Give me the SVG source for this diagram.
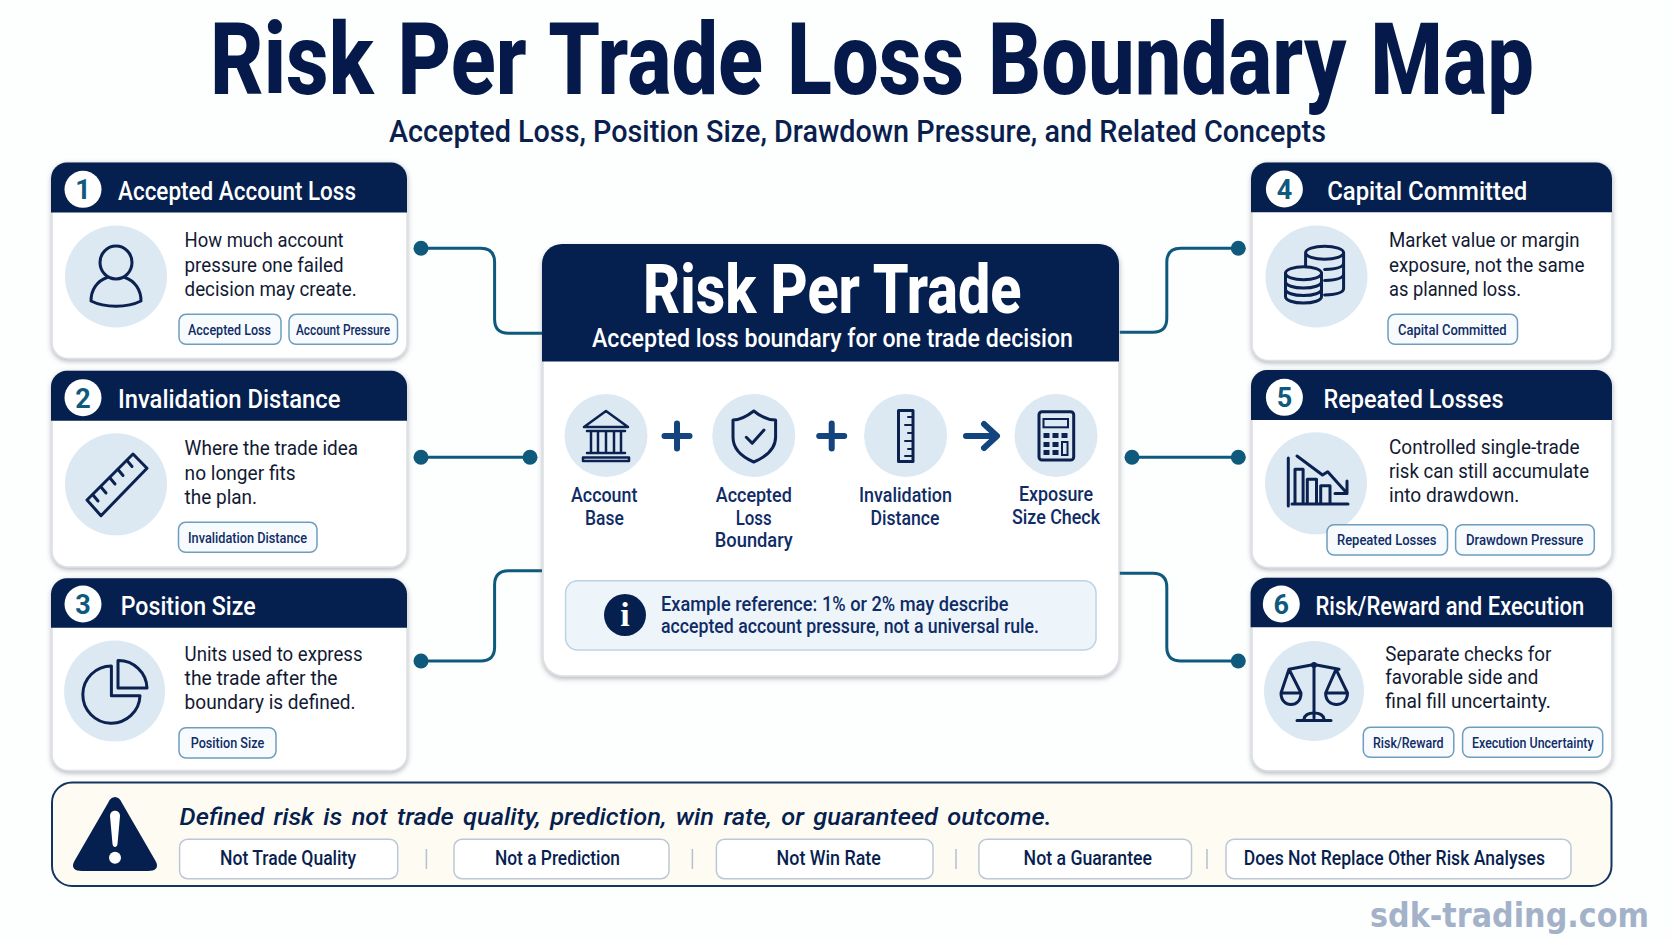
<svg xmlns="http://www.w3.org/2000/svg" width="1672" height="941" viewBox="0 0 1672 941">
<defs>
<filter id="sh" x="-5%" y="-5%" width="110%" height="112%"><feDropShadow dx="0" dy="2" stdDeviation="2.5" flood-color="#5b6470" flood-opacity="0.45"/></filter>
</defs>
<style>
text{font-family:Roboto,"Liberation Sans",sans-serif}
.card{fill:#fff;stroke:#dcdfe3;stroke-width:1.5;filter:url(#sh)}
.hd{fill:#05204f}
.ttl{font-size:25.5px;font-weight:500;fill:#fff}
.num{font-size:27px;font-weight:700;fill:#0f5a7c;text-anchor:middle}
.nc{fill:#fff}
.ic{fill:#dce9f3}
.b{font-size:19.5px;fill:#121a33}
.chip{fill:#f7fbfe;stroke:#6e9dbd;stroke-width:1.5}
.cht{font-size:15px;font-weight:500;fill:#0f2c66}
.st{fill:none;stroke:#0b2150;stroke-width:3;stroke-linejoin:round;stroke-linecap:round}
.sf{fill:#dce9f3;stroke:#0b2150;stroke-width:3;stroke-linejoin:round;stroke-linecap:round}
.thin{fill:none;stroke:#0b2150;stroke-width:2;stroke-linecap:round}
.lab{font-size:19.5px;font-weight:500;fill:#0f2c66}
.op{fill:none;stroke:#13447d;stroke-width:6;stroke-linecap:round;stroke-linejoin:round}
.con{fill:none;stroke:#0f5a7c;stroke-width:3}
.dot{fill:#0f5a7c}
.pill{fill:#fff;stroke:#bcc8d8;stroke-width:1.5}
.pt{font-size:19.5px;font-weight:500;fill:#081f4f}
.sep{stroke:#b4c1d1;stroke-width:1.5}
</style>
<rect width="1672" height="941" fill="#fdfefe"/>
<text transform="translate(210 94) scale(0.83 1)" font-size="100" font-weight="800" word-spacing="4" fill="#051a4a">Risk Per Trade Loss Boundary Map</text>
<text x="389" y="142" font-size="31" font-weight="500" fill="#0a1f4e" textLength="937" lengthAdjust="spacingAndGlyphs">Accepted Loss, Position Size, Drawdown Pressure, and Related Concepts</text>
<g id="connectors">
<path class="con" d="M421 248.300H480.600Q494.600 248.300 494.600 262.300V319.300Q494.600 333.300 508.600 333.300H542"/>
<path class="con" d="M421 457.300H530"/>
<path class="con" d="M421 661H480.600Q494.600 661 494.600 647V584.700Q494.600 570.700 508.600 570.700H542"/>
<path class="con" d="M1238 248.300H1180.800Q1166.800 248.300 1166.800 262.300V318.300Q1166.800 332.300 1152.800 332.300H1119"/>
<path class="con" d="M1132 457.300H1238"/>
<path class="con" d="M1238 661H1180.800Q1166.800 661 1166.800 647V587.300Q1166.800 573.300 1152.800 573.300H1119"/>
<circle class="dot" cx="421" cy="248.300" r="7.500"/><circle class="dot" cx="421" cy="457.300" r="7.500"/><circle class="dot" cx="530" cy="457.300" r="7.500"/><circle class="dot" cx="421" cy="661" r="7.500"/>
<circle class="dot" cx="1238.300" cy="248.300" r="7.500"/><circle class="dot" cx="1132" cy="457.300" r="7.500"/><circle class="dot" cx="1238.300" cy="457.300" r="7.500"/><circle class="dot" cx="1238.300" cy="661" r="7.500"/>
</g>
<g id="node-1">
<rect class="card" x="52" y="162.500" width="355" height="196" rx="16"/>
<path class="hd" d="M51 212.500V178.500a16 16 0 0 1 16-16H391a16 16 0 0 1 16 16V212.500Z"/>
<circle class="nc" cx="83" cy="189.300" r="18.500"/><text class="num" x="83" y="199">1</text>
<text class="ttl" x="118" y="200.300" textLength="238" lengthAdjust="spacingAndGlyphs">Accepted Account Loss</text>
<circle class="ic" cx="116" cy="276.500" r="51"/>
<ellipse class="st" cx="116" cy="262.500" rx="16" ry="16.500"/>
<path class="st" d="M107 277.500C97 281 91 290 91 301C105 308 127 308 141 301C141 290 135 281 125 277.500"/>
<text class="b" x="184.600" y="246.800" textLength="159" lengthAdjust="spacingAndGlyphs">How much account</text>
<text class="b" x="184.600" y="271.500" textLength="159" lengthAdjust="spacingAndGlyphs">pressure one failed</text>
<text class="b" x="184.600" y="295.700" textLength="172" lengthAdjust="spacingAndGlyphs">decision may create.</text>
<rect class="chip" x="179" y="314.300" width="102" height="30" rx="7"/><text class="cht" x="188" y="335" textLength="83" lengthAdjust="spacingAndGlyphs">Accepted Loss</text>
<rect class="chip" x="289" y="314.300" width="108.500" height="30" rx="7"/><text class="cht" x="296" y="335" textLength="94" lengthAdjust="spacingAndGlyphs">Account Pressure</text>
</g>
<g id="node-2">
<rect class="card" x="52" y="371" width="355" height="196" rx="16"/>
<path class="hd" d="M51 420.700V386.700a16 16 0 0 1 16-16H391a16 16 0 0 1 16 16V420.700Z"/>
<circle class="nc" cx="83" cy="397.700" r="18.500"/><text class="num" x="83" y="407.500">2</text>
<text class="ttl" x="118" y="408.300" textLength="222.500" lengthAdjust="spacingAndGlyphs">Invalidation Distance</text>
<circle class="ic" cx="116" cy="484.300" r="51"/>
<path class="st" d="M133 454L147 468.300L101 515.700L87 500Z"/>
<path class="st" d="M127 460.500L132 466.500M118 469.500L123 475.500M110 478L115 484M101 487L106 493M93 495L98 501"/>
<text class="b" x="184.600" y="455" textLength="173.600" lengthAdjust="spacingAndGlyphs">Where the trade idea</text>
<text class="b" x="184.600" y="479.500" textLength="111" lengthAdjust="spacingAndGlyphs">no longer fits</text>
<text class="b" x="184.600" y="504" textLength="72.500" lengthAdjust="spacingAndGlyphs">the plan.</text>
<rect class="chip" x="178.500" y="522.300" width="138.500" height="30" rx="7"/><text class="cht" x="188" y="542.700" textLength="119" lengthAdjust="spacingAndGlyphs">Invalidation Distance</text>
</g>
<g id="node-3">
<rect class="card" x="52" y="578.500" width="355" height="192" rx="16"/>
<path class="hd" d="M51 627.700V594.300a16 16 0 0 1 16-16H391a16 16 0 0 1 16 16V627.700Z"/>
<circle class="nc" cx="83" cy="604" r="18.500"/><text class="num" x="83" y="613.800">3</text>
<text class="ttl" x="120.700" y="615" textLength="135" lengthAdjust="spacingAndGlyphs">Position Size</text>
<circle class="ic" cx="114.600" cy="691" r="50.500"/>
<path class="st" d="M111.400 666A28.600 28.600 0 1 0 140 695.700H111.400Z"/>
<path class="st" d="M118 660.500A28.500 28.500 0 0 1 147 688H118Z"/>
<text class="b" x="184.600" y="660.700" textLength="178" lengthAdjust="spacingAndGlyphs">Units used to express</text>
<text class="b" x="184.600" y="684.700" textLength="153" lengthAdjust="spacingAndGlyphs">the trade after the</text>
<text class="b" x="184.600" y="708.700" textLength="171" lengthAdjust="spacingAndGlyphs">boundary is defined.</text>
<rect class="chip" x="179" y="727.700" width="97" height="30.300" rx="7"/><text class="cht" x="190.700" y="748.300" textLength="73.500" lengthAdjust="spacingAndGlyphs">Position Size</text>
</g>
<g id="node-4">
<rect class="card" x="1252" y="162.500" width="360" height="198" rx="16"/>
<path class="hd" d="M1251 212.300V178.500a16 16 0 0 1 16-16H1596a16 16 0 0 1 16 16V212.300Z"/>
<circle class="nc" cx="1284.400" cy="189" r="18.500"/><text class="num" x="1284.400" y="198.800">4</text>
<text class="ttl" x="1327.200" y="200.300" textLength="200" lengthAdjust="spacingAndGlyphs">Capital Committed</text>
<circle class="ic" cx="1316.500" cy="276.500" r="51"/>
<path class="st" d="M1305.600 252.700a19 6.500 0 1 0 38 0a19 6.500 0 1 0 -38 0M1305.600 252.700V267M1343.600 252.700V288.500c0 3.500-6 6-19 6.500"/>
<path class="st" d="M1343.600 263c0 4-7 6-19 6.500M1343.600 274c0 4-7 6-19 6.500"/>
<path class="sf" d="M1285.500 273.300V296.500c0 4 8 6.500 18 6.500s18-2.500 18-6.500V273.300Z"/>
<ellipse class="sf" cx="1303.500" cy="273.300" rx="18" ry="6.500"/>
<path class="st" d="M1285.500 281.500c0 4 8 6.500 18 6.500s18-2.500 18-6.500M1285.500 289c0 4 8 6.500 18 6.500s18-2.500 18-6.500"/>
<text class="b" x="1389" y="246.800" textLength="190.500" lengthAdjust="spacingAndGlyphs">Market value or margin</text>
<text class="b" x="1389" y="271.500" textLength="195.400" lengthAdjust="spacingAndGlyphs">exposure, not the same</text>
<text class="b" x="1389" y="295.700" textLength="132" lengthAdjust="spacingAndGlyphs">as planned loss.</text>
<rect class="chip" x="1388" y="314.300" width="129.500" height="30" rx="7"/><text class="cht" x="1398" y="335" textLength="108.600" lengthAdjust="spacingAndGlyphs">Capital Committed</text>
</g>
<g id="node-5">
<rect class="card" x="1252" y="370.500" width="360" height="197" rx="16"/>
<path class="hd" d="M1251 420V386a16 16 0 0 1 16-16H1596a16 16 0 0 1 16 16V420Z"/>
<circle class="nc" cx="1284.400" cy="397.300" r="18.500"/><text class="num" x="1284.400" y="407">5</text>
<text class="ttl" x="1323.500" y="408" textLength="180" lengthAdjust="spacingAndGlyphs">Repeated Losses</text>
<circle class="ic" cx="1316" cy="483.300" r="51"/>
<path class="st" d="M1288.300 458V506M1292 504H1348M1295 504V469.300H1303.100V504M1307.300 504V479.300H1316.500V504M1320.700 504V485.700H1330V504"/>
<path class="st" d="M1297 456L1322.500 475L1327.700 471.700L1347 493.300M1335 493.500H1347V481"/>
<text class="b" x="1389" y="453.700" textLength="190.600" lengthAdjust="spacingAndGlyphs">Controlled single-trade</text>
<text class="b" x="1389" y="478" textLength="200" lengthAdjust="spacingAndGlyphs">risk can still accumulate</text>
<text class="b" x="1389" y="501.700" textLength="130.300" lengthAdjust="spacingAndGlyphs">into drawdown.</text>
<rect class="chip" x="1327" y="524.700" width="120.500" height="30.300" rx="7"/><text class="cht" x="1337" y="545.200" textLength="99.500" lengthAdjust="spacingAndGlyphs">Repeated Losses</text>
<rect class="chip" x="1455.600" y="524.700" width="138.700" height="30.300" rx="7"/><text class="cht" x="1466" y="545.200" textLength="117.400" lengthAdjust="spacingAndGlyphs">Drawdown Pressure</text>
</g>
<g id="node-6">
<rect class="card" x="1252" y="578" width="360" height="192.700" rx="16"/>
<path class="hd" d="M1250.600 627.300V593.700a16 16 0 0 1 16-16H1596a16 16 0 0 1 16 16V627.300Z"/>
<circle class="nc" cx="1281.300" cy="604" r="18.500"/><text class="num" x="1281.300" y="613.800">6</text>
<text class="ttl" x="1315.500" y="615" textLength="268.800" lengthAdjust="spacingAndGlyphs">Risk/Reward and Execution</text>
<circle class="ic" cx="1314" cy="691" r="50"/>
<path class="st" d="M1314 664V718M1289 669.300L1314 664.500L1339 669.300M1289 669.300L1281 693M1289 669.300L1301 693M1281 693H1301C1301 701 1296 704.500 1291 704.500S1281 701 1281 693ZM1336 669.300L1325.600 693M1336 669.300L1347.500 693M1325.600 693H1347.500C1347.500 701 1342 704.500 1336.500 704.500S1325.600 701 1325.600 693Z"/>
<path class="st" d="M1297 720.500H1331M1304 719C1305 714 1309 713 1314 713S1323 714 1324 719"/>
<circle cx="1314" cy="665" r="3" fill="#0b2150"/>
<text class="b" x="1385.300" y="660.700" textLength="166" lengthAdjust="spacingAndGlyphs">Separate checks for</text>
<text class="b" x="1385.300" y="684.300" textLength="153" lengthAdjust="spacingAndGlyphs">favorable side and</text>
<text class="b" x="1385.300" y="708" textLength="165.500" lengthAdjust="spacingAndGlyphs">final fill uncertainty.</text>
<rect class="chip" x="1363.300" y="727.300" width="90.500" height="30" rx="7"/><text class="cht" x="1373" y="747.700" textLength="70.500" lengthAdjust="spacingAndGlyphs">Risk/Reward</text>
<rect class="chip" x="1462.600" y="727.300" width="140.100" height="30" rx="7"/><text class="cht" x="1472" y="747.700" textLength="121.600" lengthAdjust="spacingAndGlyphs">Execution Uncertainty</text>
</g>
<g id="node-center">
<rect class="card" x="543" y="245" width="576" height="431" rx="20"/>
<path class="hd" d="M542 361.500V264a20 20 0 0 1 20-20H1099a20 20 0 0 1 20 20V361.500Z"/>
<text x="643" y="312.700" font-size="68" font-weight="800" fill="#fff" textLength="378.500" lengthAdjust="spacingAndGlyphs">Risk Per Trade</text>
<text x="592" y="347.300" font-size="25" font-weight="500" fill="#fff" textLength="481" lengthAdjust="spacingAndGlyphs">Accepted loss boundary for one trade decision</text>
<circle class="ic" cx="606" cy="435.500" r="41.500"/><circle class="ic" cx="753.800" cy="435.500" r="41.500"/><circle class="ic" cx="905.600" cy="435.500" r="41.500"/><circle class="ic" cx="1056" cy="435.500" r="41.500"/>
<path class="st" style="stroke-width:2.500" d="M606 411L584 427H628ZM583 457.500H629V461H583ZM587 431H625M587 453H625M591 431V453M598 431V453M606 431V453M614 431V453M621 431V453"/>
<path class="st" d="M753.800 411C746 417 740 420 733 420V437C733 449 742 457 753.800 462C765.500 457 775.600 449 775.600 437V420C768 420 761 417 753.800 411Z"/>
<path class="st" d="M746.300 437.300L752.200 443.300L764 430"/>
<rect class="st" x="898.500" y="410.500" width="14.500" height="51"/>
<path class="thin" d="M913 417H908M913 425H905M913 433H908M913 441H905M913 449H908M913 456H905"/>
<rect class="st" x="1039" y="411.700" width="34.700" height="48.300" rx="3"/>
<rect class="thin" x="1043.500" y="419" width="24.500" height="8.300"/>
<path d="M1043.500 433h6v5h-6zM1052.500 433h6v5h-6zM1061.500 433h6v5h-6zM1043.500 442h6v5h-6zM1052.500 442h6v5h-6zM1043.500 450h6v5h-6zM1052.500 450h6v5h-6z" fill="#0b2150"/>
<rect class="thin" x="1062" y="442" width="5.500" height="13"/>
<path class="op" d="M677 423.500V448.500M664.500 436H689.500M831.700 423.500V448.500M819.200 436H844.200M966 436H996M984 424L997 436L984 448"/>
<text class="lab" x="571" y="502" textLength="66.400" lengthAdjust="spacingAndGlyphs">Account</text>
<text class="lab" x="585" y="524.500" textLength="38.800" lengthAdjust="spacingAndGlyphs">Base</text>
<text class="lab" x="715.800" y="502" textLength="76" lengthAdjust="spacingAndGlyphs">Accepted</text>
<text class="lab" x="735.700" y="524.500" textLength="36" lengthAdjust="spacingAndGlyphs">Loss</text>
<text class="lab" x="714.800" y="547" textLength="78" lengthAdjust="spacingAndGlyphs">Boundary</text>
<text class="lab" x="859" y="502" textLength="93" lengthAdjust="spacingAndGlyphs">Invalidation</text>
<text class="lab" x="870.500" y="524.500" textLength="69" lengthAdjust="spacingAndGlyphs">Distance</text>
<text class="lab" x="1019" y="501" textLength="74" lengthAdjust="spacingAndGlyphs">Exposure</text>
<text class="lab" x="1012" y="524" textLength="88" lengthAdjust="spacingAndGlyphs">Size Check</text>
<rect x="565.600" y="580.700" width="530.400" height="69.300" rx="12" fill="#eef5fa" stroke="#bcd3e5" stroke-width="1.500"/>
<circle cx="625" cy="615" r="21" fill="#05204f"/>
<text x="625" y="626" font-size="34" font-weight="700" fill="#fff" text-anchor="middle" style="font-family:'Liberation Serif',serif">i</text>
<text class="lab" x="661" y="611" textLength="347.600" lengthAdjust="spacingAndGlyphs">Example reference: 1% or 2% may describe</text>
<text class="lab" x="661" y="633.300" textLength="378" lengthAdjust="spacingAndGlyphs">accepted account pressure, not a universal rule.</text>
</g>
<g id="node-banner">
<rect x="52" y="782.500" width="1559.500" height="103.500" rx="20" fill="#fefbf2" stroke="#143462" stroke-width="2"/>
<path d="M108 803C111 795 119 795 122 803L155 860C160 868 155 871 148 871H82C75 871 70 868 75 860Z" fill="#05204f"/>
<path d="M110 816C110 809 120 809 120 816L117.500 844C117 848 113 848 112.500 844Z" fill="#fff"/>
<circle cx="115" cy="857.700" r="6" fill="#fff"/>
<text x="179.600" y="825.300" font-size="24.500" font-weight="500" font-style="italic" word-spacing="3" fill="#05204f" textLength="872" lengthAdjust="spacingAndGlyphs">Defined risk is not trade quality, prediction, win rate, or guaranteed outcome.</text>
<rect class="pill" x="179.600" y="839.300" width="218.100" height="39.400" rx="8"/><text class="pt" x="220" y="865" textLength="136" lengthAdjust="spacingAndGlyphs">Not Trade Quality</text>
<rect class="pill" x="454" y="839.300" width="215" height="39.400" rx="8"/><text class="pt" x="495" y="865" textLength="125" lengthAdjust="spacingAndGlyphs">Not a Prediction</text>
<rect class="pill" x="716.400" y="839.300" width="216.600" height="39.400" rx="8"/><text class="pt" x="776.600" y="865" textLength="104.200" lengthAdjust="spacingAndGlyphs">Not Win Rate</text>
<rect class="pill" x="978.900" y="839.300" width="212.600" height="39.400" rx="8"/><text class="pt" x="1023.600" y="865" textLength="128.400" lengthAdjust="spacingAndGlyphs">Not a Guarantee</text>
<rect class="pill" x="1226" y="839.300" width="345" height="39.400" rx="8"/><text class="pt" x="1243.800" y="865" textLength="301.200" lengthAdjust="spacingAndGlyphs">Does Not Replace Other Risk Analyses</text>
<path class="sep" d="M426.400 849V869M692.400 849V869M956 849V869M1207 849V869"/>
</g>
<text x="1370" y="927" font-size="33" font-weight="700" fill="#a3b2c9" textLength="279" lengthAdjust="spacingAndGlyphs" style="font-family:'DejaVu Sans',sans-serif">sdk-trading.com</text>
</svg>
